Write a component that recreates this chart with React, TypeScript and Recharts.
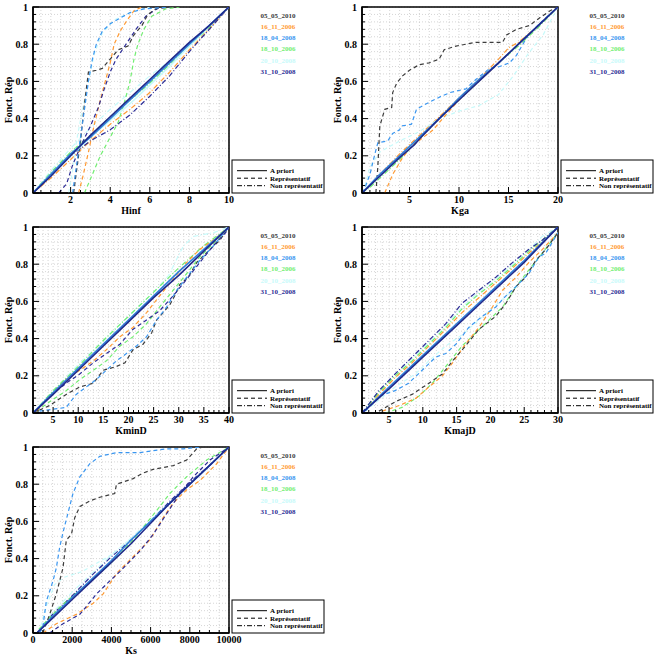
import React from 'react';
import { LineChart, Line, XAxis, YAxis, CartesianGrid, ReferenceArea } from 'recharts';

type Pt = [number, number];

// ---- legend content ----
const DATES = ['05_05_2010', '16_11_2006', '18_04_2008', '18_10_2006', '20_10_2008', '31_10_2008'];
const DATE_COLORS = ['#3c3c3c', '#ff9a33', '#3a96f0', '#72ee72', '#c8fafa', '#2c2c96'];
const STYLE_LABELS = ['A priori', 'Représentatif', 'Non représentatif'];
const Y_TITLE = 'Fonct. Rép';
const Y_MAJOR = [0, 0.2, 0.4, 0.6, 0.8, 1];

// solid a priori colours
const AP_NAVY = '#1f2a8c';
const AP_BLUE = '#2f7fd8';

// ---- Hinf ----
const hinfApNavy: Pt[] = [[0.1, 0], [1, 0.09], [2, 0.2], [3, 0.31], [4, 0.41], [5, 0.51], [6, 0.61], [7, 0.71], [8, 0.81], [9, 0.9], [10, 1]];
const hinfApBlue: Pt[] = [[0.1, 0], [1, 0.1], [2, 0.21], [3, 0.3], [4, 0.4], [5, 0.5], [6, 0.6], [7, 0.7], [8, 0.8], [9, 0.9], [10, 1]];
const hinfApCyan: Pt[] = [[0.1, 0], [1, 0.1], [2, 0.2], [3, 0.3], [4, 0.39], [5, 0.48], [6, 0.58], [7, 0.68], [8, 0.79], [9, 0.9], [10, 1]];
const hinfNrNavy: Pt[] = [[0.1, 0], [1, 0.1], [2, 0.2], [2.5, 0.24], [3, 0.28], [4, 0.34], [5, 0.42], [6, 0.52], [7, 0.63], [8, 0.76], [9, 0.88], [10, 1]];
const hinfNrOrange: Pt[] = [[0.1, 0], [1, 0.08], [2, 0.18], [3, 0.28], [4, 0.37], [5, 0.45], [6, 0.54], [7, 0.65], [8, 0.77], [9, 0.88], [10, 1]];
const hinfNrGreen: Pt[] = [[0.1, 0], [1, 0.11], [2, 0.22], [3, 0.31], [4, 0.41], [5, 0.5], [6, 0.59], [7, 0.69], [8, 0.79], [9, 0.89], [10, 1]];
const hinfNrCyan: Pt[] = [[0.1, 0], [1, 0.12], [2, 0.24], [3, 0.35], [4, 0.45], [5, 0.54], [6, 0.63], [7, 0.71], [8, 0.8], [9, 0.9], [10, 1]];
const hinfRepBlue: Pt[] = [[2.1, 0], [2.3, 0.15], [2.5, 0.3], [2.7, 0.45], [2.9, 0.6], [3.1, 0.72], [3.3, 0.8], [3.6, 0.87], [4.0, 0.91], [4.5, 0.94], [5.0, 0.97], [5.7, 0.99], [7, 1]];
const hinfRepGray: Pt[] = [[2.15, 0], [2.3, 0.12], [2.5, 0.28], [2.7, 0.48], [2.9, 0.65], [3.3, 0.66], [3.6, 0.67], [4.0, 0.72], [4.4, 0.77], [4.9, 0.79], [5.2, 0.85], [5.6, 0.9], [5.9, 0.96], [6.3, 0.99], [7, 1]];
const hinfRepNavy: Pt[] = [[1.4, 0], [1.8, 0.05], [2.1, 0.15], [2.5, 0.25], [3.0, 0.36], [3.4, 0.46], [3.7, 0.56], [4.0, 0.65], [4.3, 0.72], [4.8, 0.8], [5.3, 0.88], [5.8, 0.95], [6.5, 1]];
const hinfRepOrange: Pt[] = [[2.4, 0], [2.6, 0.08], [2.9, 0.22], [3.2, 0.37], [3.5, 0.5], [3.8, 0.62], [4.0, 0.7], [4.2, 0.8], [4.5, 0.87], [4.8, 0.92], [5.2, 0.98], [5.6, 1]];
const hinfRepGreen: Pt[] = [[2.7, 0], [3.1, 0.1], [3.5, 0.2], [4.0, 0.3], [4.4, 0.38], [4.7, 0.48], [5.0, 0.6], [5.2, 0.72], [5.4, 0.8], [5.7, 0.88], [6.1, 0.95], [6.8, 0.99], [7.5, 1]];
const hinfRepCyan: Pt[] = [[1.9, 0], [2.1, 0.12], [2.3, 0.28], [2.6, 0.45], [2.9, 0.6], [3.2, 0.75], [3.6, 0.86], [4.2, 0.93], [5, 0.97], [6, 1]];

// ---- Kga ----
const kgaApNavy: Pt[] = [[0.2, 0], [2, 0.09], [4, 0.19], [5.5, 0.26], [6, 0.29], [8, 0.4], [10, 0.5], [12, 0.6], [14, 0.7], [16, 0.8], [18, 0.9], [20, 1]];
const kgaApBlue: Pt[] = [[0.2, 0], [2, 0.1], [4, 0.2], [6, 0.3], [8, 0.4], [10, 0.51], [12, 0.61], [14, 0.7], [16, 0.8], [18, 0.9], [20, 1]];
const kgaNrGreen: Pt[] = [[0.2, 0], [1, 0.03], [2, 0.08], [4, 0.18], [6, 0.29], [8, 0.4], [10, 0.5], [12, 0.6], [14, 0.7], [16, 0.79], [18, 0.89], [20, 1]];
const kgaNrOrange: Pt[] = [[0.2, 0], [2, 0.1], [4, 0.21], [6, 0.31], [8, 0.41], [10, 0.51], [12, 0.61], [14, 0.72], [15, 0.78], [16, 0.81], [18, 0.9], [20, 1]];
const kgaRepGray: Pt[] = [[1.6, 0], [1.8, 0.14], [2.0, 0.36], [2.5, 0.45], [3.2, 0.46], [3.3, 0.54], [3.7, 0.59], [4.3, 0.63], [5, 0.66], [6, 0.69], [7, 0.7], [8, 0.72], [8.5, 0.77], [9.7, 0.79], [11.7, 0.81], [14.4, 0.81], [14.8, 0.85], [15.8, 0.88], [17.1, 0.9], [18.1, 0.94], [19.2, 0.98], [20, 1]];
const kgaRepBlue: Pt[] = [[0.3, 0], [1, 0.1], [1.5, 0.21], [1.8, 0.27], [2.8, 0.28], [3.3, 0.32], [4, 0.34], [4.2, 0.36], [5.2, 0.37], [5.7, 0.45], [6.7, 0.48], [8.2, 0.52], [9.1, 0.54], [10.7, 0.56], [11.7, 0.61], [13.1, 0.67], [14.1, 0.68], [15.1, 0.7], [15.8, 0.74], [17, 0.85], [18.5, 0.93], [20, 1]];
const kgaRepCyan: Pt[] = [[0.3, 0], [1, 0.14], [2, 0.22], [4, 0.28], [6, 0.33], [8, 0.4], [10, 0.44], [12, 0.47], [14, 0.53], [15.5, 0.63], [17, 0.75], [18.5, 0.85], [20, 1]];
const kgaRepOrange: Pt[] = [[2.5, 0], [3.3, 0.1], [4.3, 0.19], [5.2, 0.25], [6.4, 0.3], [7.4, 0.34], [8.5, 0.41], [10, 0.5], [12, 0.6], [14, 0.7], [16, 0.8], [18, 0.9], [20, 1]];

// ---- KminD ----
const kminApNavy: Pt[] = [[1, 0], [5, 0.1], [10, 0.23], [15, 0.36], [20, 0.49], [25, 0.62], [30, 0.74], [35, 0.87], [40, 1]];
const kminApBlue: Pt[] = [[1, 0], [5, 0.11], [10, 0.24], [15, 0.37], [20, 0.5], [25, 0.63], [30, 0.76], [35, 0.88], [40, 1]];
const kminNrGreen: Pt[] = [[1, 0], [5, 0.12], [10, 0.25], [15, 0.39], [20, 0.52], [25, 0.65], [30, 0.78], [35, 0.9], [40, 1]];
const kminNrCyan: Pt[] = [[1, 0], [5, 0.12], [10, 0.26], [15, 0.39], [20, 0.52], [25, 0.65], [28, 0.74], [30, 0.85], [31, 0.9], [33, 0.95], [37, 0.97], [40, 1]];
const kminRepGray: Pt[] = [[1, 0], [4.3, 0.04], [7.6, 0.1], [10.3, 0.14], [13, 0.16], [15, 0.23], [17.6, 0.25], [19.3, 0.27], [20.9, 0.34], [22.9, 0.37], [24.6, 0.43], [25.6, 0.5], [26.9, 0.54], [28.2, 0.58], [29.2, 0.63], [30.2, 0.69], [31.9, 0.73], [33.6, 0.81], [35.5, 0.86], [38.2, 0.93], [40, 1]];
const kminRepBlue: Pt[] = [[2.3, 0.01], [7.6, 0.03], [9.6, 0.1], [11.6, 0.14], [13.6, 0.18], [15.6, 0.23], [17.6, 0.28], [19.6, 0.32], [21.6, 0.36], [23.6, 0.41], [25.6, 0.5], [27.6, 0.57], [29.6, 0.66], [31.6, 0.73], [34.2, 0.82], [36.9, 0.9], [40, 1]];
const kminRepGreen: Pt[] = [[1.7, 0.01], [4.3, 0.06], [7.6, 0.12], [10.3, 0.18], [13, 0.23], [15.6, 0.28], [18.3, 0.36], [20.9, 0.41], [23.6, 0.48], [26.2, 0.57], [28.9, 0.66], [31.6, 0.75], [34.2, 0.84], [36.9, 0.91], [40, 1]];
const kminRepNavy: Pt[] = [[1.7, 0.01], [4.3, 0.09], [7.6, 0.16], [10.3, 0.21], [13, 0.27], [15.6, 0.32], [18.3, 0.37], [20.9, 0.45], [23.6, 0.5], [26.2, 0.55], [28.9, 0.63], [31.6, 0.72], [34.2, 0.81], [36.9, 0.9], [40, 0.99]];
const kminRepOrange: Pt[] = [[1.7, 0.01], [4.3, 0.09], [7.6, 0.18], [10.3, 0.23], [13, 0.28], [15.6, 0.34], [18.3, 0.41], [20.9, 0.46], [23.6, 0.54], [26.2, 0.63], [28.9, 0.72], [31.6, 0.81], [34.2, 0.88], [36.9, 0.93], [40, 1]];

// ---- KmajD ----
const kmajApNavy: Pt[] = [[1, 0], [5, 0.13], [10, 0.3], [15, 0.47], [20, 0.64], [25, 0.81], [30, 1]];
const kmajApBlue: Pt[] = [[1, 0], [5, 0.14], [10, 0.31], [15, 0.48], [20, 0.65], [25, 0.82], [30, 1]];
const kmajNrNavy: Pt[] = [[1, 0], [3.5, 0.12], [5.9, 0.21], [8.4, 0.3], [10.9, 0.39], [13.4, 0.48], [15.8, 0.59], [18.3, 0.66], [20.8, 0.73], [23.3, 0.81], [25.7, 0.88], [27.7, 0.93], [30, 1]];
const kmajNrGreen: Pt[] = [[1, 0], [3.5, 0.11], [5.9, 0.2], [8.4, 0.28], [10.9, 0.37], [13.4, 0.46], [15.8, 0.56], [18.3, 0.64], [20.8, 0.71], [23.3, 0.79], [25.7, 0.87], [27.7, 0.93], [30, 1]];
const kmajNrOrange: Pt[] = [[1, 0], [3.5, 0.1], [5.9, 0.19], [8.4, 0.27], [10.9, 0.36], [13.4, 0.45], [15.8, 0.54], [18.3, 0.62], [20.8, 0.7], [23.3, 0.78], [25.7, 0.86], [27.7, 0.92], [30, 1]];
const kmajNrCyan: Pt[] = [[1, 0], [3.5, 0.12], [5.9, 0.21], [8.4, 0.29], [10.9, 0.38], [13.4, 0.47], [15.8, 0.57], [18.3, 0.65], [20.8, 0.72], [23.3, 0.8], [25.7, 0.88], [27.7, 0.95], [30, 1]];
const kmajRepBlue: Pt[] = [[1.5, 0.01], [3.5, 0.09], [5.9, 0.12], [7.9, 0.16], [9.9, 0.23], [11.9, 0.3], [13.4, 0.32], [14.9, 0.37], [16.8, 0.46], [18.8, 0.52], [20.8, 0.57], [22.3, 0.63], [23.8, 0.68], [25.7, 0.75], [27.2, 0.84], [28.2, 0.86], [30, 0.97]];
const kmajRepCyan: Pt[] = [[1.5, 0.01], [3.5, 0.07], [5.9, 0.14], [8.9, 0.21], [10.9, 0.28], [13.4, 0.36], [15.8, 0.42], [18.3, 0.5], [20.8, 0.58], [23.3, 0.66], [25.7, 0.76], [28, 0.88], [30, 0.98]];
const kmajRepGray: Pt[] = [[3.5, 0.01], [5.9, 0.06], [8.4, 0.1], [10.9, 0.16], [12.9, 0.21], [14.4, 0.28], [16.3, 0.36], [18.3, 0.45], [20.8, 0.52], [22.3, 0.59], [23.8, 0.68], [25.2, 0.73], [26.7, 0.82], [28.2, 0.88], [30, 0.97]];
const kmajRepOrange: Pt[] = [[4, 0.01], [6.5, 0.04], [9, 0.08], [10.9, 0.14], [12.9, 0.2], [14.4, 0.27], [16.3, 0.37], [18.3, 0.46], [20.3, 0.57], [21.8, 0.66], [23.8, 0.73], [25.7, 0.81], [27.7, 0.88], [30, 0.97]];
const kmajRepGreen: Pt[] = [[4.5, 0], [6.9, 0.03], [9.4, 0.09], [11.4, 0.16], [13.4, 0.25], [15.8, 0.36], [17.8, 0.43], [19.8, 0.5], [21.8, 0.57], [23.8, 0.68], [25.7, 0.77], [27.7, 0.86], [30, 0.97]];

// ---- Ks ----
const ksApNavy: Pt[] = [[200, 0], [1000, 0.08], [2000, 0.18], [3000, 0.28], [4000, 0.38], [5000, 0.48], [6000, 0.59], [7000, 0.7], [8000, 0.8], [9000, 0.9], [10000, 1]];
const ksApBlue: Pt[] = [[200, 0], [1000, 0.09], [2000, 0.19], [3000, 0.29], [4000, 0.39], [5000, 0.5], [6000, 0.6], [7000, 0.7], [8000, 0.8], [9000, 0.9], [10000, 1]];
const ksNrNavy: Pt[] = [[200, 0], [1000, 0.1], [2000, 0.2], [3000, 0.31], [4000, 0.41], [5000, 0.5], [6000, 0.6], [7000, 0.71], [8000, 0.81], [9000, 0.9], [10000, 1]];
const ksNrCyan: Pt[] = [[200, 0], [1000, 0.11], [2000, 0.22], [3000, 0.32], [4000, 0.42], [5000, 0.51], [6000, 0.61], [7000, 0.71], [8000, 0.8], [9000, 0.9], [10000, 1]];
const ksRepBlue: Pt[] = [[340, 0], [500, 0.03], [680, 0.17], [1020, 0.28], [1190, 0.35], [1360, 0.46], [1530, 0.54], [1700, 0.61], [1870, 0.68], [2040, 0.75], [2390, 0.84], [2900, 0.91], [3410, 0.95], [4260, 0.97], [5450, 0.97], [6810, 0.99], [7670, 0.99], [8520, 1]];
const ksRepGray: Pt[] = [[500, 0], [850, 0.1], [1190, 0.21], [1530, 0.35], [1700, 0.5], [1960, 0.53], [2130, 0.62], [2390, 0.68], [2900, 0.71], [3410, 0.73], [4170, 0.75], [4260, 0.8], [5110, 0.83], [5620, 0.86], [6130, 0.88], [7160, 0.9], [7840, 0.93], [8350, 0.99], [8690, 1]];
const ksRepOrange: Pt[] = [[510, 0], [1190, 0.05], [2210, 0.1], [3070, 0.16], [3580, 0.21], [4260, 0.32], [5110, 0.41], [5960, 0.5], [6640, 0.62], [7160, 0.7], [7840, 0.77], [8520, 0.82], [9370, 0.91], [10000, 1]];
const ksRepNavy: Pt[] = [[850, 0], [1530, 0.05], [2390, 0.1], [3240, 0.21], [3920, 0.28], [4430, 0.33], [5450, 0.44], [6130, 0.53], [6810, 0.64], [7500, 0.75], [8180, 0.84], [9030, 0.93], [10000, 1]];
const ksRepGreen: Pt[] = [[300, 0.02], [1000, 0.1], [1700, 0.17], [2730, 0.26], [3920, 0.37], [5110, 0.5], [5790, 0.59], [6470, 0.68], [6980, 0.75], [7840, 0.84], [8860, 0.93], [10000, 1]];
const ksRepCyan: Pt[] = [[300, 0], [700, 0.15], [1100, 0.26], [1600, 0.3], [2500, 0.33], [4000, 0.42], [5500, 0.55], [7000, 0.7], [8500, 0.85], [10000, 1]];

type Kind = 'ap' | 'rep' | 'nr';
type Curve = { pts: Pt[]; color: string; kind: Kind };

const [GRAY, ORANGE, BLUE, GREEN, CYAN, NAVY] = DATE_COLORS;

const DASH: Record<Kind, string | undefined> = { ap: undefined, rep: '4 3', nr: '5 2 1 2' };

const steps = (a: number, b: number, s: number) => {
  const out: number[] = [];
  for (let i = 0; a + i * s <= b + 1e-9; i++) out.push(+(a + i * s).toFixed(4));
  return out;
};

type PanelDef = {
  left: number;
  top: number;
  title: string;
  domain: [number, number];
  ticks: number[];
  majors: number[];
  curves: Curve[];
};

const PANELS: PanelDef[] = [
  {
    left: 0, top: 0, title: 'Hinf', domain: [0.1, 10], ticks: steps(0.5, 10, 0.5), majors: [2, 4, 6, 8, 10],
    curves: [
      { pts: hinfNrCyan, color: CYAN, kind: 'nr' },
      { pts: hinfNrGreen, color: GREEN, kind: 'nr' },
      { pts: hinfNrOrange, color: ORANGE, kind: 'nr' },
      { pts: hinfNrNavy, color: NAVY, kind: 'nr' },
      { pts: hinfRepCyan, color: CYAN, kind: 'rep' },
      { pts: hinfRepGreen, color: GREEN, kind: 'rep' },
      { pts: hinfRepOrange, color: ORANGE, kind: 'rep' },
      { pts: hinfRepNavy, color: NAVY, kind: 'rep' },
      { pts: hinfRepGray, color: GRAY, kind: 'rep' },
      { pts: hinfRepBlue, color: BLUE, kind: 'rep' },
      { pts: hinfApCyan, color: CYAN, kind: 'ap' },
      { pts: hinfApBlue, color: AP_BLUE, kind: 'ap' },
      { pts: hinfApNavy, color: AP_NAVY, kind: 'ap' },
    ],
  },
  {
    left: 329, top: 0, title: 'Kga', domain: [0.2, 20], ticks: steps(1, 20, 1), majors: [5, 10, 15, 20],
    curves: [
      { pts: kgaNrGreen, color: GREEN, kind: 'nr' },
      { pts: kgaNrOrange, color: ORANGE, kind: 'nr' },
      { pts: kgaRepCyan, color: CYAN, kind: 'rep' },
      { pts: kgaRepOrange, color: ORANGE, kind: 'rep' },
      { pts: kgaRepBlue, color: BLUE, kind: 'rep' },
      { pts: kgaRepGray, color: GRAY, kind: 'rep' },
      { pts: kgaApBlue, color: AP_BLUE, kind: 'ap' },
      { pts: kgaApNavy, color: AP_NAVY, kind: 'ap' },
    ],
  },
  {
    left: 0, top: 220, title: 'KminD', domain: [1, 40], ticks: steps(1, 40, 1), majors: [5, 10, 15, 20, 25, 30, 35, 40],
    curves: [
      { pts: kminNrCyan, color: CYAN, kind: 'nr' },
      { pts: kminNrGreen, color: GREEN, kind: 'nr' },
      { pts: kminRepGray, color: GRAY, kind: 'rep' },
      { pts: kminRepBlue, color: BLUE, kind: 'rep' },
      { pts: kminRepGreen, color: GREEN, kind: 'rep' },
      { pts: kminRepNavy, color: NAVY, kind: 'rep' },
      { pts: kminRepOrange, color: ORANGE, kind: 'rep' },
      { pts: kminApBlue, color: AP_BLUE, kind: 'ap' },
      { pts: kminApNavy, color: AP_NAVY, kind: 'ap' },
    ],
  },
  {
    left: 329, top: 220, title: 'KmajD', domain: [1, 30], ticks: steps(1, 30, 1), majors: [5, 10, 15, 20, 25, 30],
    curves: [
      { pts: kmajNrCyan, color: CYAN, kind: 'nr' },
      { pts: kmajNrOrange, color: ORANGE, kind: 'nr' },
      { pts: kmajNrGreen, color: GREEN, kind: 'nr' },
      { pts: kmajNrNavy, color: NAVY, kind: 'nr' },
      { pts: kmajRepCyan, color: CYAN, kind: 'rep' },
      { pts: kmajRepGreen, color: GREEN, kind: 'rep' },
      { pts: kmajRepOrange, color: ORANGE, kind: 'rep' },
      { pts: kmajRepGray, color: GRAY, kind: 'rep' },
      { pts: kmajRepBlue, color: BLUE, kind: 'rep' },
      { pts: kmajApBlue, color: AP_BLUE, kind: 'ap' },
      { pts: kmajApNavy, color: AP_NAVY, kind: 'ap' },
    ],
  },
  {
    left: 0, top: 440, title: 'Ks', domain: [0, 10000], ticks: steps(0, 10000, 500), majors: [0, 2000, 4000, 6000, 8000, 10000],
    curves: [
      { pts: ksNrCyan, color: CYAN, kind: 'nr' },
      { pts: ksNrNavy, color: NAVY, kind: 'nr' },
      { pts: ksRepCyan, color: CYAN, kind: 'rep' },
      { pts: ksRepGreen, color: GREEN, kind: 'rep' },
      { pts: ksRepOrange, color: ORANGE, kind: 'rep' },
      { pts: ksRepNavy, color: NAVY, kind: 'rep' },
      { pts: ksRepGray, color: GRAY, kind: 'rep' },
      { pts: ksRepBlue, color: BLUE, kind: 'rep' },
      { pts: ksApBlue, color: AP_BLUE, kind: 'ap' },
      { pts: ksApNavy, color: AP_NAVY, kind: 'ap' },
    ],
  },
];

const FONT = "'Liberation Serif', 'Times New Roman', serif";
const W = 330;
const H = 220;
const M = { top: 7, right: 101, bottom: 0, left: 0 };
const PLOT_L = 33;
const PLOT_R = W - M.right;
const PLOT_B = 193;

const isIn = (v: number, list: number[]) => list.some((m) => Math.abs(m - v) < 1e-6);

function Panel({ p }: { p: PanelDef }) {
  const yTicks = steps(0, 1, 0.04);

  const xTick = (props: any) => {
    const { x, y, payload } = props;
    const v = payload.value as number;
    const major = isIn(v, p.majors);
    return (
      <g>
        <line x1={x} x2={x} y1={y} y2={y - (major ? 6 : 3)} stroke="#000" strokeWidth={1} />
        {major && (
          <text x={x} y={y + 9.5} textAnchor="middle" fontFamily={FONT} fontWeight="bold" fontSize={10} fill="#000">
            {String(v)}
          </text>
        )}
      </g>
    );
  };

  const yTick = (props: any) => {
    const { x, y, payload } = props;
    const v = payload.value as number;
    const major = isIn(v, Y_MAJOR);
    return (
      <g>
        <line x1={x} x2={x + (major ? 6 : 3)} y1={y} y2={y} stroke="#000" strokeWidth={1} />
        {major && (
          <text x={x - 5} y={y + 3.5} textAnchor="end" fontFamily={FONT} fontWeight="bold" fontSize={10} fill="#000">
            {String(v)}
          </text>
        )}
      </g>
    );
  };

  return (
    <div style={{ position: 'absolute', left: p.left, top: p.top, width: W, height: H }}>
      <LineChart width={W} height={H} margin={M}>
        <CartesianGrid stroke="#c4c4c4" strokeDasharray="1 2" strokeWidth={0.7} />
        <XAxis
          dataKey="x"
          type="number"
          domain={p.domain}
          ticks={p.ticks}
          interval={0}
          allowDataOverflow
          height={27}
          tickSize={0}
          tickMargin={0}
          tickLine={false}
          axisLine={{ stroke: '#000', strokeWidth: 1.5 }}
          tick={xTick}
        />
        <YAxis
          type="number"
          domain={[0, 1]}
          ticks={yTicks}
          interval={0}
          allowDataOverflow
          width={33}
          tickSize={0}
          tickMargin={0}
          tickLine={false}
          axisLine={{ stroke: '#000', strokeWidth: 1.5 }}
          tick={yTick}
        />
        {p.curves.map((c, i) => (
          <Line
            key={i}
            data={c.pts.map(([x, y]) => ({ x, y }))}
            dataKey="y"
            type="linear"
            stroke={c.color}
            strokeWidth={c.kind === 'ap' ? 1.6 : 1.2}
            strokeDasharray={DASH[c.kind]}
            dot={false}
            activeDot={false}
            isAnimationActive={false}
          />
        ))}
        <ReferenceArea
          x1={p.domain[0]}
          x2={p.domain[1]}
          y1={0}
          y2={1}
          fill="none"
          fillOpacity={0}
          stroke="#000"
          strokeWidth={1.5}
          ifOverflow="visible"
        />
      </LineChart>
      <svg
        width={W}
        height={H}
        style={{ position: 'absolute', left: 0, top: 0, pointerEvents: 'none' }}
        fontFamily={FONT}
        fontWeight="bold"
      >
        <text transform={`translate(12,100) rotate(-90)`} textAnchor="middle" fontSize={10} fill="#000">
          {Y_TITLE}
        </text>
        <text x={(PLOT_L + PLOT_R) / 2} y={214} textAnchor="middle" fontSize={10} fill="#000">
          {p.title}
        </text>
        {DATES.map((d, i) => (
          <text key={d} x={278} y={18.3 + i * 11.05} textAnchor="middle" fontSize={7} fill={DATE_COLORS[i]}>
            {d}
          </text>
        ))}
        <rect x={232} y={160} width={92} height={PLOT_B - 160} fill="#fff" stroke="#000" strokeWidth={1} />
        {STYLE_LABELS.map((s, i) => {
          const cy = 170.7 + i * 7.5;
          const kind: Kind = i === 0 ? 'ap' : i === 1 ? 'rep' : 'nr';
          return (
            <g key={s}>
              <line x1={237} x2={267} y1={cy} y2={cy} stroke="#000" strokeWidth={1} strokeDasharray={DASH[kind]} />
              <text x={270} y={cy + 2.3} fontSize={7} fill="#000">
                {s}
              </text>
            </g>
          );
        })}
      </svg>
    </div>
  );
}

export default function App() {
  return (
    <div style={{ position: 'absolute', left: 0, top: 0, width: 657, height: 658, background: '#fff', overflow: 'hidden' }}>
      {PANELS.map((p) => (
        <Panel key={p.title} p={p} />
      ))}
    </div>
  );
}
